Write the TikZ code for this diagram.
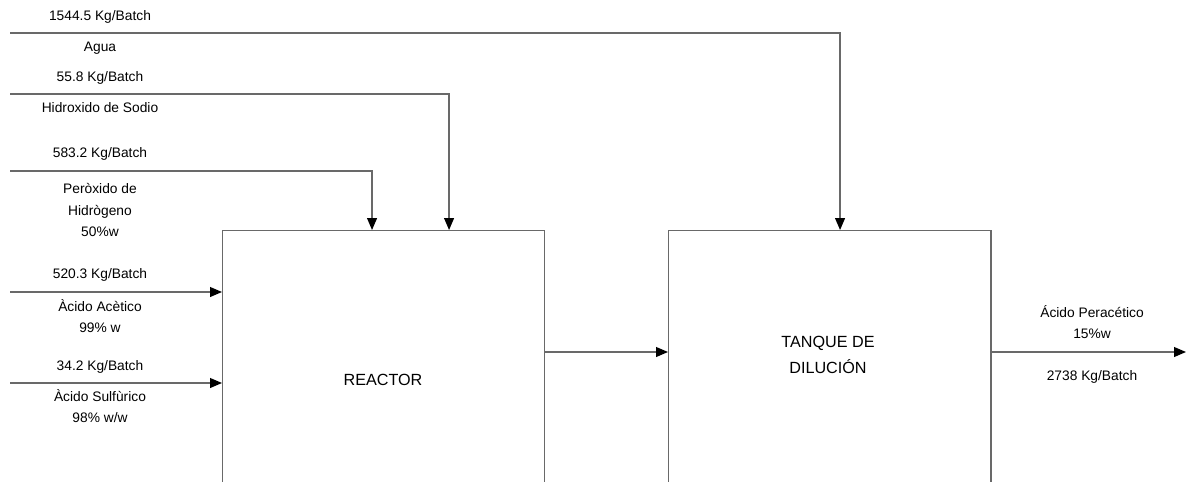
\documentclass[tikz,border=0pt]{standalone}
\usepackage{fontspec}
\setmainfont{Liberation Sans}
\usetikzlibrary{arrows.meta, positioning, calc}
\definecolor{lineGray}{RGB}{105, 105, 105}

\tikzset{
  flow/.style={draw=lineGray, line width=1pt, -{Triangle[length=8.5pt, width=7pt, color=black]}},
  unit/.style={draw=lineGray, line width=1pt, anchor=north west, inner sep=0pt,
    minimum width=8.05cm, minimum height=8cm},
  lbl/.style={align=center, inner sep=0pt, font=\fontsize{9.8}{15.5}\selectfont},
  unitlbl/.style={align=center, inner sep=0pt, font=\fontsize{11.5}{18}\selectfont}
}

\begin{document}
\begin{tikzpicture}[x=0.025cm, y=-0.025cm]
        \useasboundingbox (0,0) rectangle (1188,481);
        \clip (0,0) rectangle (1188,481);
        \fill[white] (0,0) rectangle (1188,481);

        % equipos
        \node[unit] (reactor) at (222,230) {};
        \node[unit] (tanque) at (668,230) {};
        \node[unitlbl] (reactorTxt) at (383,380) {REACTOR};
        \node[unitlbl] (tanqueTxt) at (828,355) {TANQUE DE\\DILUCIÓN};

        % corrientes
        \coordinate (aguaIn) at (10,33);
        \coordinate (sodioIn) at (10,94);
        \coordinate (peroxIn) at (10,171);
        \coordinate (aceticIn) at (10,292);
        \coordinate (sulfIn) at (10,383);
        \coordinate (prodOut) at (1186,352);

        \draw[flow] (aguaIn) -| ([xshift=4.3cm]tanque.north west);
        \draw[flow] (sodioIn) -| ([xshift=5.675cm]reactor.north west);
        \draw[flow] (peroxIn) -| ([xshift=3.75cm]reactor.north west);
        \draw[flow] (aceticIn) -- (aceticIn -| reactor.west);
        \draw[flow] (sulfIn) -- (sulfIn -| reactor.west);
        \draw[flow] (reactor.east |- prodOut) -- (tanque.west |- prodOut);
        \draw[flow] (tanque.east |- prodOut) -- (prodOut);

        % etiquetas
        \foreach \y/\txt in {
            17/{1544.5 Kg/Batch},
            48/{Agua},
            78/{55.8 Kg/Batch},
            108/{Hidroxido de Sodio},
            154/{583.2 Kg/Batch},
            210/{Peròxido de\\Hidrògeno\\50\%w},
            275/{520.3 Kg/Batch},
            316/{Àcido Acètico\\99\% w},
            367/{34.2 Kg/Batch},
            406/{Àcido Sulfùrico\\98\% w/w}}
        {
            \node[lbl] at (100,\y) {\txt};
        }
        \node[lbl] (prodName) at (1092,322) {Ácido Peracético\\15\%w};
        \node[lbl] (prodMass) at (1092,377) {2738 Kg/Batch};
    \end{tikzpicture}
\end{document}
